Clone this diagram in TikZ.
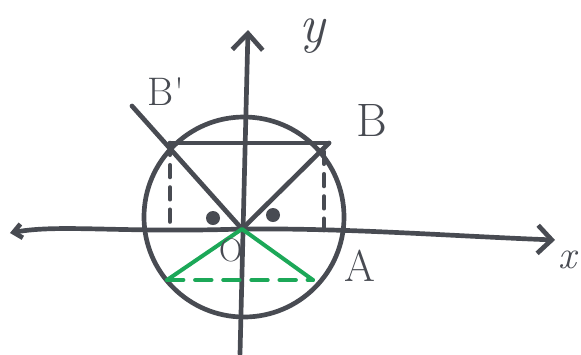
\documentclass[tikz,border=0pt]{standalone}
\usepackage{fontspec}
\usetikzlibrary{arrows.meta}
\definecolor{pen}{RGB}{72,75,82}
\definecolor{grn}{RGB}{28,168,88}
\begin{document}
\begin{tikzpicture}[x=0.03cm,y=-0.03cm,
  ink/.style={draw=pen,line width=4pt,line cap=round,line join=round},
  gink/.style={draw=grn,line width=3.4pt,line cap=round,line join=round},
  lbl/.style={text=pen,inner sep=0pt},
  tip/.style={-{Straight Barb[length=14pt,width=26pt,line width=4pt]}}]
\useasboundingbox (0,0) rectangle (581,354);
% points
\coordinate (O) at (242,229);
\coordinate (C) at (244,217);
\coordinate (B) at (329,143);
\coordinate (Bp) at (170,143);
\coordinate (L0) at (132,106);
\coordinate (Lv) at (167,280);
\coordinate (Rv) at (313,280);
\coordinate (xl) at (10,233);
\coordinate (xr) at (555,240);
\coordinate (yt) at (248,30);
\coordinate (yb) at (240,354);
\coordinate (Bpf) at (170,228);
\coordinate (Bt) at (324,152);
\coordinate (Bf) at (324,230);
% axes
\draw[ink,{Straight Barb[length=7pt,width=12pt,line width=4pt]}-{Straight Barb[length=12pt,width=24pt,line width=4pt]}]
  (xl) .. controls (60,224) and (120,233) .. (O) .. controls (350,228) and (450,236) .. (xr);
\draw[ink,tip] (yb) -- (yt);
% circle
\draw[ink] (C) circle[radius=3cm];
% chord and radii
\draw[ink] (Bp) -- (B);
\draw[ink] (L0) -- (O);
\draw[ink] (O) -- (B);
% dashed projections
\draw[ink,dash pattern=on 10pt off 9pt] (Bp) -- (Bpf);
\draw[ink,dash pattern=on 10pt off 9pt] (Bt) -- (Bf);
% angle dots
\fill[pen] (213,218) circle[radius=7];
\fill[pen] (273,215) circle[radius=7];
% green triangle
\draw[gink] (Lv) -- (O) -- (Rv);
\draw[gink,dash pattern=on 14pt off 10pt] (Lv) -- (Rv);
% labels
\node[lbl,font=\fontsize{40}{40}\selectfont] (lB) at (372,120) {B};
\node[lbl,font=\fontsize{34}{34}\selectfont] (lBp) at (166,92) {B\textquotesingle};
\node[lbl,font=\fontsize{38}{38}\selectfont] (lA) at (360,266) {A};
\node[lbl,font=\fontsize{28}{28}\selectfont] (lO) at (231,250) {O};
\node[lbl,font=\fontsize{46}{46}\selectfont\itshape] (ly) at (312,36) {y};
\node[lbl,font=\fontsize{34}{34}\selectfont\itshape] (lx) at (567,260) {x};
\end{tikzpicture}
\end{document}
